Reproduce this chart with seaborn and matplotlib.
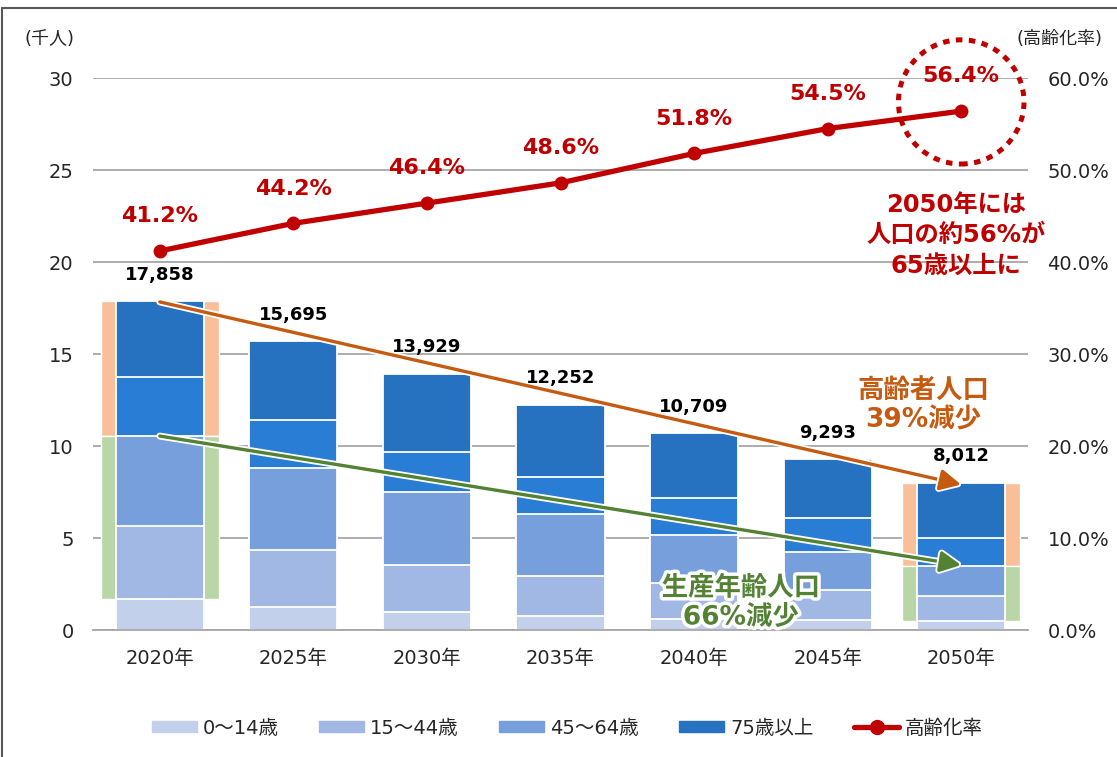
import numpy as np
import pandas as pd
import matplotlib
matplotlib.use('Agg')
import matplotlib.pyplot as plt
import matplotlib.patheffects as pe
from matplotlib.patches import Ellipse, Patch
from matplotlib.lines import Line2D
import seaborn as sns

# データ (千人)
years = ['2020年', '2025年', '2030年', '2035年', '2040年', '2045年', '2050年']
totals = [17858, 15695, 13929, 12252, 10709, 9293, 8012]
age_0_14 = [1.68, 1.27, 0.96, 0.76, 0.62, 0.54, 0.49]
age_15_44 = [3.97, 3.08, 2.57, 2.19, 1.92, 1.63, 1.36]
age_45_64 = [4.87, 4.44, 3.95, 3.35, 2.62, 2.05, 1.63]
age_65_74 = [3.23, 2.62, 2.21, 2.03, 2.00, 1.85, 1.50]
age_75 = [4.11, 4.29, 4.24, 3.92, 3.55, 3.22, 3.03]
rates = [41.2, 44.2, 46.4, 48.6, 51.8, 54.5, 56.4]
left_ticks = [0, 5, 10, 15, 20, 25, 30]
right_ticks = [0, 10, 20, 30, 40, 50, 60]

c0014 = '#C2D0EC'
c1544 = '#A2B8E4'
c4564 = '#779FDB'
c6574 = '#297DD5'
c75 = '#2672C0'
c_red = '#C00000'
c_orange = '#C55A11'
c_green = '#548235'
c_text = '#262626'

sns.set_theme(style='white')
plt.rcParams['font.family'] = ['DejaVu Sans', 'Noto Sans CJK JP']

df = pd.DataFrame({'year': years, 'a': age_0_14, 'b': age_15_44, 'c': age_45_64,
                   'd': age_65_74, 'e': age_75})
df['cum_a'] = df['a']
df['cum_b'] = df['cum_a'] + df['b']
df['cum_c'] = df['cum_b'] + df['c']
df['cum_d'] = df['cum_c'] + df['d']
df['cum_e'] = df['cum_d'] + df['e']

fig = plt.figure(figsize=(11.17, 7.57), dpi=100)
ax = fig.add_axes([93 / 1117, 1 - 630 / 757, 935 / 1117, 552 / 757])

# 2020年・2050年の帯 (高齢者 / 生産年齢)
side = df.iloc[[0, 6]]
ax.bar([0, 6], side['cum_e'] - side['cum_c'], bottom=side['cum_c'], width=0.88,
       color='#F8BF99', zorder=1.5)
ax.bar([0, 6], side['cum_c'] - side['cum_a'], bottom=side['cum_a'], width=0.88,
       color='#B9D7A6', zorder=1.5)

# 積み上げ棒
for col, c in [('cum_e', c75), ('cum_d', c6574), ('cum_c', c4564),
               ('cum_b', c1544), ('cum_a', c0014)]:
    sns.barplot(data=df, x='year', y=col, order=years, color=c, saturation=1,
                width=0.66, edgecolor='white', linewidth=1.3, errorbar=None,
                ax=ax, zorder=2)

ax.set_xlim(-0.5, 6.5)
ax.set_ylim(0, 30)
ax.set_yticks(left_ticks)
ax.set_xlabel('')
ax.set_ylabel('')
ax.yaxis.grid(True, color='#A6A6A6', linewidth=1.3)
ax.set_axisbelow(True)
for s in ['top', 'right', 'left']:
    ax.spines[s].set_visible(False)
ax.spines['bottom'].set_color('#A6A6A6')
ax.spines['bottom'].set_linewidth(1.3)
ax.tick_params(axis='both', length=0, labelsize=14, colors=c_text)
ax.tick_params(axis='x', pad=14)
ax.tick_params(axis='y', pad=14)

for i, t in enumerate(totals):
    ax.annotate(f'{t:,}', xy=(i, t / 1000), xytext=(0, 19), textcoords='offset points',
                ha='center', va='center', fontsize=13, fontweight='bold',
                color='black', zorder=5)

# 矢印
glow = [pe.Stroke(linewidth=5, foreground='white'), pe.Normal()]
ax.annotate('', xy=(6, 7.9), xytext=(0, 17.83),
            arrowprops=dict(arrowstyle='-|>,head_length=0.7,head_width=0.35',
                            color=c_orange, lw=2.4, mutation_scale=18,
                            shrinkA=0, shrinkB=0, path_effects=glow), zorder=4)
ax.annotate('', xy=(6, 3.53), xytext=(0, 10.54),
            arrowprops=dict(arrowstyle='-|>,head_length=0.7,head_width=0.35',
                            color=c_green, lw=2.4, mutation_scale=18,
                            shrinkA=0, shrinkB=0, path_effects=glow), zorder=4)

# 高齢化率
ax2 = ax.twinx()
sns.lineplot(x=np.arange(len(years)), y=rates, ax=ax2, color=c_red, linewidth=3.8,
             marker='o', markersize=10, markeredgewidth=0)
ax2.set_ylim(0, 60)
ax2.set_yticks(right_ticks)
ax2.set_yticklabels([f'{v:.1f}%' for v in right_ticks])
ax2.tick_params(axis='y', length=0, labelsize=14, colors=c_text, pad=14)
for s in ax2.spines.values():
    s.set_visible(False)
ax2.grid(False)
ax2.set_xlim(-0.5, 6.5)

for i, r in enumerate(rates):
    ax2.annotate(f'{r}%', xy=(i, r), xytext=(0, 25), textcoords='offset points',
                 ha='center', va='center', fontsize=16, fontweight='bold', color=c_red)

circle = Ellipse((6, 57.4), width=0.94, height=13.5, fill=False, edgecolor=c_red,
                 linewidth=3.6, linestyle=(0, (1.3, 1.3)), clip_on=False)
ax2.add_patch(circle)

ax2.text(5.96, 42.9, '2050年には\n人口の約56%が\n65歳以上に', ha='center', va='center',
         fontsize=17.5, fontweight='bold', color=c_red, linespacing=1.35)
ax.text(5.715, 12.17, '高齢者人口\n39%減少', ha='center', va='center', fontsize=19,
        fontweight='bold', color=c_orange, linespacing=1.15, zorder=6)
ax.text(4.35, 1.47, '生産年齢人口\n66%減少', ha='center', va='center', fontsize=19,
        fontweight='bold', color=c_green, linespacing=1.15, zorder=6,
        path_effects=[pe.withStroke(linewidth=5, foreground='white')])

fig.text(25 / 1117, 1 - 39 / 757, '(千人)', ha='left', va='center', fontsize=13,
         color=c_text)
fig.text(1102 / 1117, 1 - 39 / 757, '(高齢化率)', ha='right', va='center', fontsize=13,
         color=c_text)

handles = [Patch(color=c0014), Patch(color=c1544), Patch(color=c4564), Patch(color=c75),
           Line2D([0], [0], color=c_red, lw=3.8, marker='o', markersize=10)]
labels = ['0～14歳', '15～44歳', '45～64歳', '75歳以上', '高齢化率']
fig.legend(handles, labels, loc='center', bbox_to_anchor=(0.508, 1 - 728 / 757), ncol=5,
           frameon=False, fontsize=14, handlelength=2.3, handleheight=0.5,
           handletextpad=0.3, columnspacing=2.1, labelcolor=c_text)

# 外枠
fig.add_artist(Line2D([2 / 1117, 2 / 1117], [0, 1 - 8 / 757], transform=fig.transFigure,
                      color='#595959', lw=1.5))
fig.add_artist(Line2D([2 / 1117, 1], [1 - 8 / 757, 1 - 8 / 757], transform=fig.transFigure,
                      color='#595959', lw=1.5))

fig.savefig('out.png', dpi=100)
